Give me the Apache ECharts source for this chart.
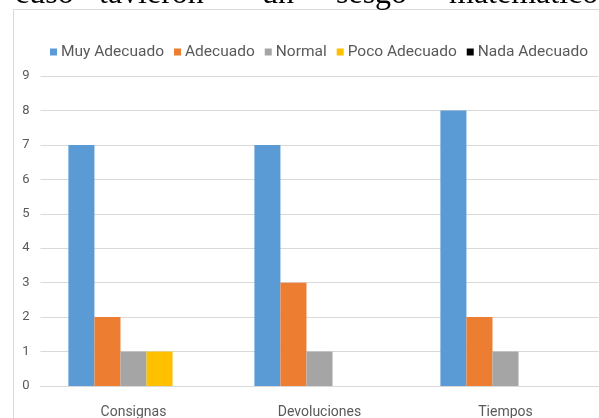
<!DOCTYPE html>
<html>
<head>
<meta charset="utf-8">
<script src="https://cdn.jsdelivr.net/npm/echarts@6/dist/echarts.min.js"></script>
<style>
html,body{margin:0;padding:0;background:#fff;}
#chart{width:599px;height:418px;}
</style>
</head>
<body>
<div id="chart"></div>
<script>
var categories=['Consignas','Devoluciones','Tiempos'];
var seriesNames=['Muy Adecuado','Adecuado','Normal','Poco Adecuado','Nada Adecuado'];
var muyAdecuado=[7,7,8];
var adecuado=[2,3,2];
var normal=[1,1,1];
var pocoAdecuado=[1,0,0];
var nadaAdecuado=[0,0,0];
var yTicks=[0,1,2,3,4,5,6,7,8,9];
// texto de la pagina cortado arriba
var topWords=['cuso','tavieron','un','sesgo','matemático'];
var topWordX=[15,99,262,336,449];

var colors=['#5b9bd5','#ed7d31','#a5a5a5','#ffc000','#000000'];
var values=[muyAdecuado,adecuado,normal,pocoAdecuado,nadaAdecuado];
var fontName='Roboto';

var chart=echarts.init(document.getElementById('chart'),null,{renderer:'canvas'});

var series=[];
for(var i=0;i<seriesNames.length;i++){
  series.push({
    name:seriesNames[i],
    type:'bar',
    data:values[i],
    barGap:'0%',
    barCategoryGap:'30%',
    itemStyle:{color:colors[i]},
    silent:true
  });
}

var graphic=[{
  type:'rect',
  shape:{x:13.5,y:9.5,width:620,height:430},
  style:{fill:'none',stroke:'#d9d9d9',lineWidth:1},
  z:-10
}];
for(var j=0;j<topWords.length;j++){
  graphic.push({
    type:'text',
    left:topWordX[j],
    top:-21,
    style:{text:topWords[j],fontFamily:'Liberation Serif',fontSize:32,fill:'#000'}
  });
}

var option={
  animation:false,
  color:colors,
  textStyle:{fontFamily:fontName},
  legend:{
    top:39,
    left:45,
    itemWidth:7,
    itemHeight:7,
    itemGap:10,
    icon:'rect',
    textStyle:{color:'#595959',fontSize:15.5,fontFamily:fontName,padding:[0,0,0,-1]},
    data:seriesNames
  },
  grid:{left:40.5,right:0.5,top:76,bottom:32,containLabel:false,outerBoundsMode:'none'},
  xAxis:{
    type:'category',
    data:categories,
    axisLine:{show:true,lineStyle:{color:'#d9d9d9'}},
    axisTick:{show:false},
    axisLabel:{color:'#595959',fontSize:14,margin:19,fontFamily:fontName}
  },
  yAxis:{
    type:'value',
    min:yTicks[0],
    max:yTicks[yTicks.length-1],
    interval:1,
    axisLine:{show:false},
    axisTick:{show:false},
    splitLine:{lineStyle:{color:'#d9d9d9',width:1}},
    axisLabel:{color:'#595959',fontSize:13,margin:11,fontFamily:fontName}
  },
  series:series,
  graphic:graphic
};
chart.setOption(option);
</script>
</body>
</html>
